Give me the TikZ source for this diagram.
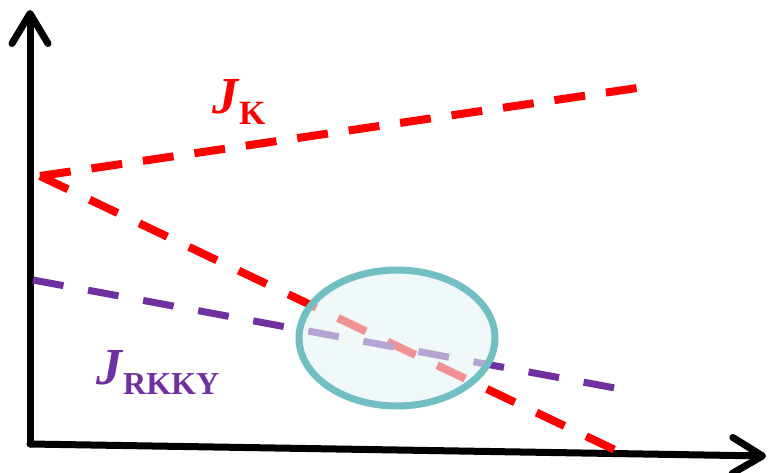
\documentclass[tikz,border=0pt]{standalone}
\usepackage{fontspec}
\setmainfont{Liberation Serif}
\usetikzlibrary{arrows.meta}

\begin{document}
\begin{tikzpicture}[x=1pt, y=-1pt]
    % Define colours
    \definecolor{kondoColour}{HTML}{FF0000}
    \definecolor{rkkyColour}{HTML}{7030A0}
    \definecolor{ringColour}{HTML}{71BFC3}
    \definecolor{ringFill}{HTML}{E6F4F5}

    % Define styles
    \tikzset{
        axis/.style={line width=7pt, line cap=round, line join=round,
            -{Straight Barb[length=30pt, width=36pt, line width=7pt, round]}},
        kondoLine/.style={kondoColour, line width=8pt, dash pattern=on 31pt off 24pt},
        rkkyLine/.style={rkkyColour, line width=7pt, dash pattern=on 31pt off 25pt},
        coupling/.style={font=\bfseries\itshape\fontsize{52}{52}\selectfont, inner sep=0pt, anchor=base west}
    }

    % Fix the frame
    \useasboundingbox (0,0) rectangle (772,472);

    % Define coordinates for the axes
    \coordinate (O) at (30,444);
    \coordinate (yTop) at (30,10);
    \coordinate (xEnd) at (766,456);

    % Draw axes
    \draw[axis] (O) -- (yTop);
    \draw[axis] (O) -- (xEnd);

    % Define coordinates for the coupling lines
    \coordinate (kStart) at (40,176);
    \coordinate (kUp) at (637,88);
    \coordinate (kDown) at (615,450);
    \coordinate (rStart) at (33,280);
    \coordinate (rEnd) at (615,388);

    % Draw the coupling lines
    \draw[kondoLine, dash pattern=on 31pt off 21pt] (kStart) -- (kUp);
    \draw[kondoLine] (kStart) -- (kDown);
    \draw[rkkyLine] (rStart) -- (rEnd);

    % Draw the crossing region
    \draw[ringColour, line width=7pt, fill=ringFill, fill opacity=0.6] (397,338) ellipse (98pt and 68pt);

    % Label the couplings
    \node[coupling, text=kondoColour] (jk) at (212,113)
        {J\kern1pt\raisebox{-11pt}{\fontsize{34}{34}\selectfont\upshape K}};
    \node[coupling, text=rkkyColour] (jrkky) at (96,384)
        {J\kern1pt\raisebox{-10pt}{\fontsize{32}{32}\selectfont\upshape RKKY}};
\end{tikzpicture}
\end{document}
